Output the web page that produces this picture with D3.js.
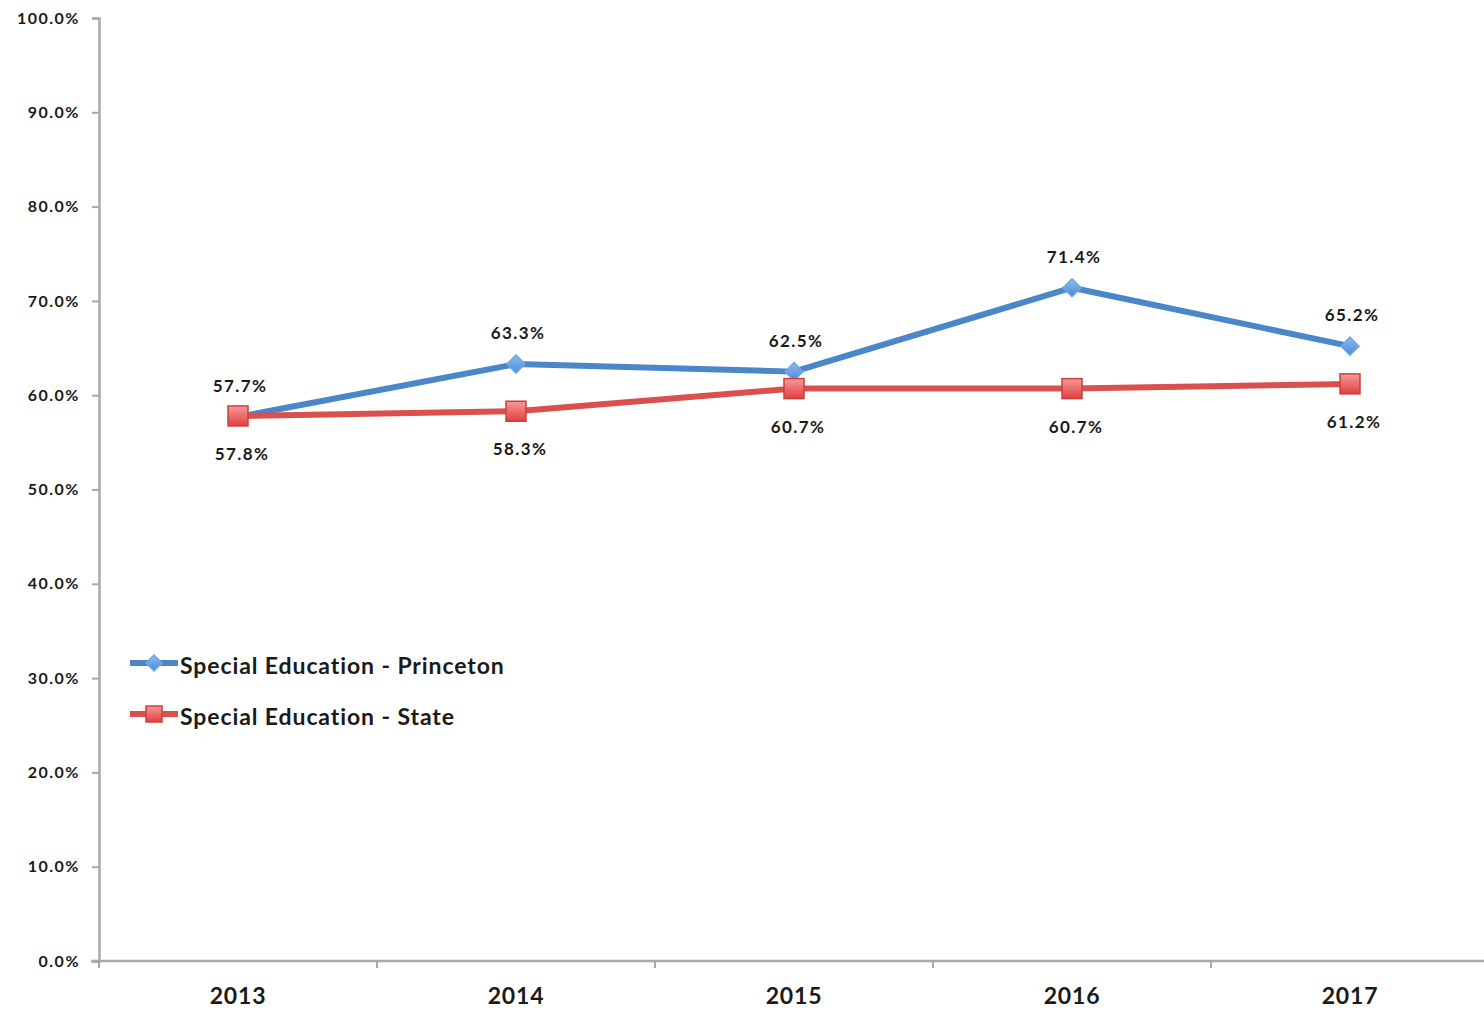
<!DOCTYPE html>
<html>
<head>
<meta charset="utf-8">
<script src="https://cdn.jsdelivr.net/npm/d3@7"></script>
<style>
  html, body { margin: 0; padding: 0; background: #ffffff; }
  svg { display: block; }
  text { font-family: Lato, "Open Sans", sans-serif; font-weight: bold; fill: #1a1a1a; }
</style>
</head>
<body>
<svg id="chart" width="1484" height="1009"></svg>
<script>
// Graduation rates, special education students
const years = ["2013", "2014", "2015", "2016", "2017"];
const princeton = [57.7, 63.3, 62.5, 71.4, 65.2];
const state = [57.8, 58.3, 60.7, 60.7, 61.2];
const yTicks = [0, 10, 20, 30, 40, 50, 60, 70, 80, 90, 100];
const seriesNames = ["Special Education - Princeton", "Special Education - State"];

const svg = d3.select("#chart");
const plot = { left: 99, right: 1489, top: 18, bottom: 961 };

const x = d3.scaleBand().domain(years).range([plot.left, plot.right]);
const y = d3.scaleLinear().domain([0, 100]).range([plot.bottom, plot.top]);
const cx = d => x(d) + x.bandwidth() / 2;

const axisColor = "#a9a9a9";

// Y axis
const yAxis = svg.append("g")
  .attr("transform", `translate(${plot.left},0)`)
  .call(d3.axisLeft(y).tickValues(yTicks).tickSize(7).tickPadding(12)
    .tickFormat(d => d3.format(".1f")(d) + "%"));
yAxis.select(".domain").attr("stroke", axisColor).attr("stroke-width", 2.5);
yAxis.selectAll(".tick line").attr("stroke", axisColor).attr("stroke-width", 2);
yAxis.selectAll(".tick text")
  .style("font-size", "16px").style("letter-spacing", "1.5px")
  .attr("fill", "#1a1a1a");

// X axis: ticks between categories
const xAxisG = svg.append("g").attr("transform", `translate(0,${plot.bottom})`);
xAxisG.append("line")
  .attr("x1", plot.left - 8).attr("x2", plot.right)
  .attr("stroke", axisColor).attr("stroke-width", 2.5);
const bounds = years.map(d => x(d)).concat([plot.right]);
xAxisG.selectAll("line.tk").data(bounds).join("line")
  .attr("class", "tk")
  .attr("x1", d => d).attr("x2", d => d)
  .attr("y1", 0).attr("y2", 7)
  .attr("stroke", axisColor).attr("stroke-width", 2);
xAxisG.selectAll("text").data(years).join("text")
  .attr("x", d => cx(d)).attr("y", 43)
  .attr("text-anchor", "middle")
  .style("font-size", "23px").style("letter-spacing", "0.8px")
  .text(d => d);

// Marker gradients
const defs = svg.append("defs");
const gBlue = defs.append("linearGradient").attr("id", "gBlue").attr("x1", 0).attr("y1", 0).attr("x2", 0).attr("y2", 1);
gBlue.append("stop").attr("offset", "0%").attr("stop-color", "#8fbdf0");
gBlue.append("stop").attr("offset", "100%").attr("stop-color", "#4a8ad6");
const gRed = defs.append("linearGradient").attr("id", "gRed").attr("x1", 0).attr("y1", 0).attr("x2", 0).attr("y2", 1);
gRed.append("stop").attr("offset", "0%").attr("stop-color", "#f79a98");
gRed.append("stop").attr("offset", "100%").attr("stop-color", "#e0403e");

const blue = "#4a86c8";
const red = "#d9504e";

const line = d3.line().x((d, i) => cx(years[i])).y(d => y(d));

// Princeton line
svg.append("path").datum(princeton)
  .attr("d", line).attr("fill", "none")
  .attr("stroke", blue).attr("stroke-width", 6).attr("stroke-linejoin", "round");
// State line
svg.append("path").datum(state)
  .attr("d", line).attr("fill", "none")
  .attr("stroke", red).attr("stroke-width", 6).attr("stroke-linejoin", "round");

const diamond = (px, py, r) => `M${px},${py - r}L${px + r},${py}L${px},${py + r}L${px - r},${py}Z`;

// Princeton markers
svg.append("g").selectAll("path").data(princeton).join("path")
  .attr("d", (d, i) => diamond(cx(years[i]), y(d), 9))
  .attr("fill", "url(#gBlue)").attr("stroke", "#6fa6e3").attr("stroke-width", 1.5);

// State markers
svg.append("g").selectAll("rect").data(state).join("rect")
  .attr("x", (d, i) => cx(years[i]) - 10).attr("y", d => y(d) - 10)
  .attr("width", 20).attr("height", 20)
  .attr("fill", "url(#gRed)").attr("stroke", "#c9413f").attr("stroke-width", 1.5);

// Value labels
const pct = d => d3.format(".1f")(d) + "%";
svg.append("g").selectAll("text").data(princeton).join("text")
  .attr("x", (d, i) => cx(years[i]) + 2).attr("y", d => y(d) - 25)
  .attr("text-anchor", "middle")
  .style("font-size", "17px").style("letter-spacing", "1.4px")
  .text(pct);
svg.append("g").selectAll("text").data(state).join("text")
  .attr("x", (d, i) => cx(years[i]) + 4).attr("y", d => y(d) + 44)
  .attr("text-anchor", "middle")
  .style("font-size", "17px").style("letter-spacing", "1.4px")
  .text(pct);

// Legend
const legend = svg.append("g").attr("transform", "translate(130,663)");
const legendItems = [
  { name: seriesNames[0], color: blue, kind: "diamond" },
  { name: seriesNames[1], color: red, kind: "square" }
];
legendItems.forEach((it, i) => {
  const g = legend.append("g").attr("transform", `translate(0,${i * 51})`);
  g.append("line").attr("x1", 0).attr("x2", 48).attr("y1", 0).attr("y2", 0)
    .attr("stroke", it.color).attr("stroke-width", 6);
  if (it.kind === "diamond") {
    g.append("path").attr("d", diamond(24, 0, 8))
      .attr("fill", "url(#gBlue)").attr("stroke", "#6fa6e3").attr("stroke-width", 1.5);
  } else {
    g.append("rect").attr("x", 16).attr("y", -8).attr("width", 16).attr("height", 16)
      .attr("fill", "url(#gRed)").attr("stroke", "#c9413f").attr("stroke-width", 1.5);
  }
  g.append("text").attr("x", 50).attr("y", 11)
    .style("font-size", "23px").style("letter-spacing", "0.9px")
    .text(it.name);
});
</script>
</body>
</html>
